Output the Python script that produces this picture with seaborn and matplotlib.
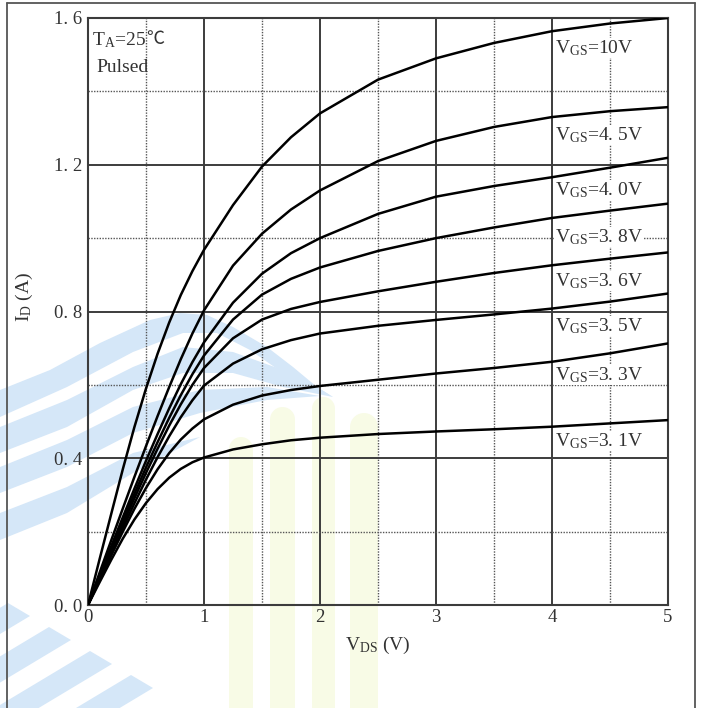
import numpy as np
import pandas as pd
import seaborn as sns
import matplotlib.pyplot as plt
from matplotlib.lines import Line2D
from matplotlib.patches import Polygon

# drain-source voltage (V) where the curves were read
vds = [0, 0.1, 0.2, 0.3, 0.4, 0.5, 0.6, 0.7, 0.8, 0.9, 1.0,
       1.25, 1.5, 1.75, 2.0, 2.5, 3.0, 3.5, 4.0, 4.5, 5.0]

# drain current (A) for each gate voltage
id_10v = [0, 0.125, 0.248, 0.37, 0.485, 0.59, 0.685, 0.77, 0.845, 0.91, 0.968,
          1.09, 1.195, 1.275, 1.34, 1.432, 1.49, 1.532, 1.564, 1.585, 1.60]
id_4v5 = [0, 0.088, 0.176, 0.263, 0.349, 0.433, 0.515, 0.594, 0.67, 0.74, 0.803,
          0.925, 1.012, 1.078, 1.13, 1.21, 1.265, 1.303, 1.33, 1.346, 1.357]
id_4v0 = [0, 0.08, 0.16, 0.239, 0.317, 0.393, 0.466, 0.536, 0.602, 0.662, 0.716,
          0.824, 0.903, 0.959, 1.0, 1.066, 1.113, 1.142, 1.166, 1.192, 1.219]
id_3v8 = [0, 0.077, 0.154, 0.229, 0.303, 0.375, 0.444, 0.51, 0.572, 0.629, 0.68,
          0.778, 0.846, 0.889, 0.92, 0.965, 1.0, 1.029, 1.055, 1.075, 1.094]
id_3v6 = [0, 0.074, 0.148, 0.22, 0.291, 0.36, 0.426, 0.489, 0.547, 0.6, 0.646,
          0.727, 0.778, 0.807, 0.826, 0.855, 0.881, 0.905, 0.926, 0.944, 0.961]
id_3v5 = [0, 0.071, 0.141, 0.21, 0.277, 0.342, 0.403, 0.46, 0.512, 0.558, 0.598,
          0.658, 0.697, 0.722, 0.74, 0.761, 0.777, 0.792, 0.808, 0.827, 0.849]
id_3v3 = [0, 0.068, 0.135, 0.2, 0.262, 0.319, 0.37, 0.414, 0.451, 0.481, 0.506,
          0.546, 0.571, 0.586, 0.597, 0.614, 0.631, 0.646, 0.663, 0.686, 0.713]
id_3v1 = [0, 0.062, 0.123, 0.181, 0.233, 0.278, 0.316, 0.347, 0.371, 0.389, 0.402,
          0.424, 0.438, 0.449, 0.456, 0.466, 0.473, 0.479, 0.486, 0.495, 0.504]

vgs_names = ["10V", "4. 5V", "4. 0V", "3. 8V", "3. 6V", "3. 5V", "3. 3V", "3. 1V"]
curves = [id_10v, id_4v5, id_4v0, id_3v8, id_3v6, id_3v5, id_3v3, id_3v1]
label_y = [1.518, 1.281, 1.131, 1.003, 0.883, 0.76, 0.627, 0.447]

yticks = [0, 0.4, 0.8, 1.2, 1.6]
ytick_labels = ["0. 0", "0. 4", "0. 8", "1. 2", "1. 6"]

df = pd.concat([pd.DataFrame({"VDS": vds, "ID": c, "VGS": n})
                for n, c in zip(vgs_names, curves)])

sns.set_style("white")
plt.rcParams["font.family"] = ["Liberation Serif", "DejaVu Serif", "DejaVu Sans"]
plt.rcParams["mathtext.default"] = "regular"

W, H = 702, 708
fig = plt.figure(figsize=(W / 100, H / 100), dpi=100)


def px(pts):
    # pixel coords (y down) -> figure fraction
    return [(x / W, 1 - y / H) for x, y in pts]


# faint watermark behind the chart
wm_blue = "#d5e7f8"
bands = [
    ([(0, 390), (50, 370), (100, 343), (150, 320), (180, 313), (207, 315), (233, 327),
      (267, 347), (293, 367), (317, 387), (333, 397)],
     [(0, 417), (67, 387), (133, 352), (183, 333), (217, 333), (250, 350), (283, 373)]),
    ([(0, 427), (67, 400), (133, 367), (183, 347), (233, 352), (283, 370), (317, 387),
      (333, 397)],
     [(0, 453), (67, 427), (133, 390), (183, 373), (233, 373), (283, 387)]),
    ([(0, 467), (67, 440), (133, 407), (200, 390), (267, 387), (320, 396)],
     [(0, 493), (67, 467), (133, 433), (200, 413), (267, 400)]),
    ([(0, 513), (67, 487), (133, 453), (200, 437)],
     [(0, 540), (67, 513), (133, 473)]),
]
for upper, lower in bands:
    fig.add_artist(Polygon(px(upper + lower[::-1]), closed=True, transform=fig.transFigure,
                           facecolor=wm_blue, edgecolor="none", zorder=-2))
for k in range(4):
    tx, ty = 8 + 41 * k, 603 + 24 * k
    pts = [(tx, ty), (tx + 22, ty + 13), (tx + 22 - 300, ty + 13 + 180), (tx - 300, ty + 180)]
    fig.add_artist(Polygon(px(pts), closed=True, transform=fig.transFigure,
                           facecolor=wm_blue, edgecolor="none", zorder=-2))
for x0, x1, top in [(229, 253, 437), (270, 295, 407), (312, 335, 397), (350, 378, 413)]:
    r = (x1 - x0) / 2
    th = np.linspace(np.pi, 0, 20)
    arc = [((x0 + x1) / 2 + r * np.cos(t), top + r - r * np.sin(t)) for t in th]
    pts = [(x0, H)] + arc + [(x1, H)]
    fig.add_artist(Polygon(px(pts), closed=True, transform=fig.transFigure,
                           facecolor="#f8fbe6", edgecolor="none", zorder=-2))

ax = fig.add_axes([88 / W, 1 - 605 / H, 580 / W, 587 / H])
ax.patch.set_alpha(0)

sns.lineplot(data=df, x="VDS", y="ID", hue="VGS", palette=["black"] * 8,
             legend=False, sort=False, lw=1.8, ax=ax, zorder=3)

ax.set_xlim(0, 5)
ax.set_ylim(0, 1.6)
ax.set_xticks(range(6))
ax.set_xticks(np.arange(0.5, 5, 1.0), minor=True)
ax.set_yticks(yticks)
ax.set_yticklabels(ytick_labels)
ax.set_yticks(np.arange(0.2, 1.6, 0.4), minor=True)
ax.tick_params(which="both", length=0, labelsize=13.5, colors="#333333")
ax.tick_params(axis="x", pad=3)
ax.tick_params(axis="y", pad=4)

ax.grid(which="major", color="#3c3c3c", lw=1.4, zorder=1)
ax.grid(which="minor", color="#555555", lw=1.0, ls=(0, (1, 1)), zorder=1)
for s in ax.spines.values():
    s.set_color("#3c3c3c")
    s.set_linewidth(1.5)

ax.set_xlabel("$V_{DS}$ (V)", fontsize=14, color="#333333", labelpad=6)
ax.set_ylabel("$I_{D}$ (A)", fontsize=14, color="#333333")
ax.yaxis.set_label_coords(-0.092, 0.525)

for name, y in zip(vgs_names, label_y):
    ax.text(4.03, y, "$V_{GS}$=" + name, fontsize=14, color="#333333",
            va="center", ha="left", zorder=4,
            bbox=dict(facecolor="white", edgecolor="none", pad=0.3))

t_a = ax.text(0.035, 1.54, "$T_{A}$=25", fontsize=14, color="#333333",
              va="center", zorder=4)
ax.annotate("℃", xy=(1, 0.55), xycoords=t_a, va="center", ha="left",
            fontsize=13, color="#333333", family=["Noto Sans CJK SC", "DejaVu Sans"])
ax.text(0.07, 1.466, "Pulsed", fontsize=14, color="#333333", va="center", zorder=4)

# page frame around the figure
frame = dict(transform=fig.transFigure, color="#555555", lw=1.3)
fig.add_artist(Line2D([7 / W, 7 / W], [0, 1 - 3 / H], **frame))
fig.add_artist(Line2D([7 / W, 695 / W], [1 - 3 / H, 1 - 3 / H], **frame))
fig.add_artist(Line2D([695 / W, 695 / W], [0, 1 - 3 / H], **frame))

fig.savefig("out.png", dpi=100)
